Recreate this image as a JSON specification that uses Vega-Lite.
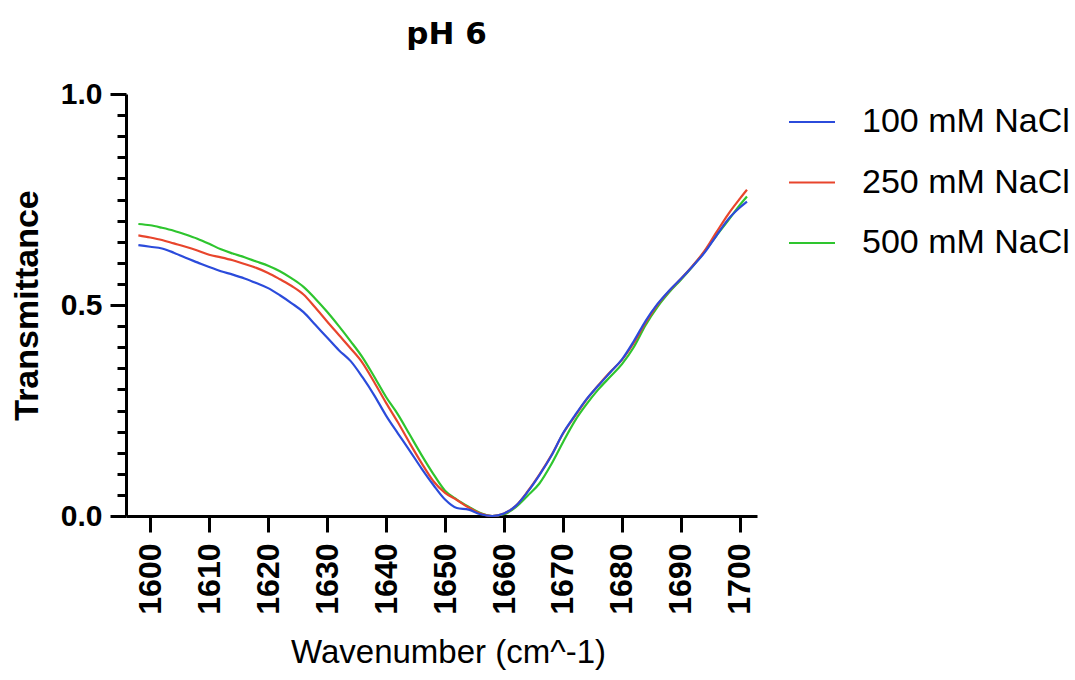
{
  "$schema": "https://vega.github.io/schema/vega-lite/v6.json",
  "autosize": {"type": "none"},
  "width": 631,
  "height": 422,
  "padding": {"left": 126, "top": 94, "right": 318, "bottom": 164},
  "background": "white",
  "title": {"text": "pH 6", "font": "DejaVu Sans", "fontSize": 31, "fontWeight": "bold", "color": "black", "offset": 28, "dx": 5},
  "config": {
    "view": {"stroke": null},
    "axis": {"domainColor": "black", "domainWidth": 3, "tickColor": "black", "tickWidth": 3, "grid": false, "labelFont": "Liberation Sans", "labelFontWeight": "bold", "labelFontSize": 30, "labelColor": "black", "titleFont": "Liberation Sans", "titleColor": "black"}
  },
  "datasets": {
    "spectra": [
      {"w":1598,"t100":0.642,"t250":0.665,"t500":0.692},
      {"w":1600,"t100":0.638,"t250":0.660,"t500":0.689},
      {"w":1602,"t100":0.634,"t250":0.654,"t500":0.683},
      {"w":1604,"t100":0.624,"t250":0.646,"t500":0.676},
      {"w":1606,"t100":0.612,"t250":0.638,"t500":0.667},
      {"w":1608,"t100":0.601,"t250":0.629,"t500":0.657},
      {"w":1610,"t100":0.590,"t250":0.619,"t500":0.645},
      {"w":1612,"t100":0.580,"t250":0.613,"t500":0.632},
      {"w":1614,"t100":0.572,"t250":0.606,"t500":0.622},
      {"w":1616,"t100":0.563,"t250":0.597,"t500":0.613},
      {"w":1618,"t100":0.552,"t250":0.588,"t500":0.603},
      {"w":1620,"t100":0.540,"t250":0.576,"t500":0.593},
      {"w":1622,"t100":0.523,"t250":0.561,"t500":0.580},
      {"w":1624,"t100":0.504,"t250":0.545,"t500":0.563},
      {"w":1626,"t100":0.483,"t250":0.525,"t500":0.543},
      {"w":1628,"t100":0.453,"t250":0.494,"t500":0.515},
      {"w":1630,"t100":0.423,"t250":0.461,"t500":0.484},
      {"w":1632,"t100":0.393,"t250":0.429,"t500":0.450},
      {"w":1634,"t100":0.367,"t250":0.397,"t500":0.414},
      {"w":1636,"t100":0.329,"t250":0.363,"t500":0.376},
      {"w":1638,"t100":0.286,"t250":0.317,"t500":0.330},
      {"w":1640,"t100":0.238,"t250":0.268,"t500":0.282},
      {"w":1642,"t100":0.196,"t250":0.222,"t500":0.241},
      {"w":1644,"t100":0.155,"t250":0.173,"t500":0.193},
      {"w":1646,"t100":0.113,"t250":0.126,"t500":0.145},
      {"w":1648,"t100":0.074,"t250":0.083,"t500":0.100},
      {"w":1650,"t100":0.039,"t250":0.055,"t500":0.060},
      {"w":1652,"t100":0.019,"t250":0.038,"t500":0.039},
      {"w":1654,"t100":0.015,"t250":0.020,"t500":0.022},
      {"w":1656,"t100":0.004,"t250":0.006,"t500":0.007},
      {"w":1658,"t100":0.000,"t250":0.000,"t500":0.000},
      {"w":1660,"t100":0.006,"t250":0.006,"t500":0.004},
      {"w":1662,"t100":0.024,"t250":0.024,"t500":0.021},
      {"w":1664,"t100":0.057,"t250":0.058,"t500":0.048},
      {"w":1666,"t100":0.097,"t250":0.098,"t500":0.077},
      {"w":1668,"t100":0.142,"t250":0.143,"t500":0.122},
      {"w":1670,"t100":0.196,"t250":0.195,"t500":0.175},
      {"w":1672,"t100":0.238,"t250":0.236,"t500":0.225},
      {"w":1674,"t100":0.277,"t250":0.276,"t500":0.265},
      {"w":1676,"t100":0.309,"t250":0.310,"t500":0.300},
      {"w":1678,"t100":0.340,"t250":0.341,"t500":0.330},
      {"w":1680,"t100":0.371,"t250":0.370,"t500":0.360},
      {"w":1682,"t100":0.414,"t250":0.410,"t500":0.400},
      {"w":1684,"t100":0.462,"t250":0.458,"t500":0.452},
      {"w":1686,"t100":0.502,"t250":0.500,"t500":0.495},
      {"w":1688,"t100":0.534,"t250":0.533,"t500":0.530},
      {"w":1690,"t100":0.562,"t250":0.562,"t500":0.560},
      {"w":1692,"t100":0.592,"t250":0.593,"t500":0.592},
      {"w":1694,"t100":0.624,"t250":0.628,"t500":0.626},
      {"w":1696,"t100":0.664,"t250":0.672,"t500":0.664},
      {"w":1698,"t100":0.703,"t250":0.715,"t500":0.700},
      {"w":1700,"t100":0.731,"t250":0.752,"t500":0.737},
      {"w":1701.2,"t100":0.745,"t250":0.773,"t500":0.757}
    ]
  },
  "data": {"name": "spectra"},
  "transform": [
    {"fold": ["t500", "t250", "t100"], "as": ["key", "T"]},
    {"lookup": "key", "from": {"data": {"values": [
      {"key": "t100", "series": "100 mM NaCl"},
      {"key": "t250", "series": "250 mM NaCl"},
      {"key": "t500", "series": "500 mM NaCl"}
    ]}, "key": "key", "fields": ["series"]}}
  ],
  "encoding": {
    "x": {"field": "w", "type": "quantitative", "scale": {"domain": [1595.9, 1702.9], "nice": false, "zero": false},
      "axis": {"values": [1600,1610,1620,1630,1640,1650,1660,1670,1680,1690,1700], "format": "d", "tickSize": 16, "labelAngle": 270, "labelAlign": "right", "labelBaseline": "middle", "labelPadding": 11, "labelFontSize": 32, "title": "Wavenumber (cm^-1)", "titleFontSize": 33, "titleFontWeight": "normal", "titlePadding": 22, "titleX": 322}}
  },
  "layer": [
    {
      "layer": [
        {"transform": [{"filter": "datum.key === 't500'"}], "mark": {"type": "line", "strokeWidth": 2.2, "interpolate": "monotone"}},
        {"transform": [{"filter": "datum.key === 't250'"}], "mark": {"type": "line", "strokeWidth": 2.2, "interpolate": "monotone"}},
        {"transform": [{"filter": "datum.key === 't100'"}], "mark": {"type": "line", "strokeWidth": 2.2, "interpolate": "monotone"}}
      ],
      "encoding": {
        "y": {"field": "T", "type": "quantitative", "scale": {"domain": [0, 1], "nice": false},
          "axis": {"values": [0, 0.5, 1], "format": ".1f", "tickSize": 16, "labelPadding": 8, "title": "Transmittance", "titleFontSize": 34, "titleFontWeight": "bold", "titlePadding": 16}},
        "color": {"field": "series", "type": "nominal",
          "scale": {"domain": ["100 mM NaCl", "250 mM NaCl", "500 mM NaCl"], "range": ["#2B4BDB", "#E8452C", "#2EC52E"]},
          "legend": {"title": null, "orient": "none", "legendX": 662, "legendY": 4, "symbolType": "stroke", "symbolSize": 2116, "symbolStrokeWidth": 2, "labelFont": "Liberation Sans", "labelFontSize": 34, "labelColor": "black", "labelOffset": 26, "rowPadding": 19.5, "labelLimit": 400}}
      }
    },
    {
      "mark": {"type": "line", "opacity": 0},
      "encoding": {
        "y": {"field": "T", "type": "quantitative", "scale": {"domain": [0, 1], "nice": false},
          "axis": {"orient": "left", "values": [0.05,0.1,0.15,0.2,0.25,0.3,0.35,0.4,0.45,0.55,0.6,0.65,0.7,0.75,0.8,0.85,0.9,0.95], "tickSize": 9, "labels": false, "domain": false, "title": null}},
        "detail": {"field": "series"}
      }
    }
  ],
  "resolve": {"scale": {"y": "independent"}, "axis": {"y": "independent"}}
}
